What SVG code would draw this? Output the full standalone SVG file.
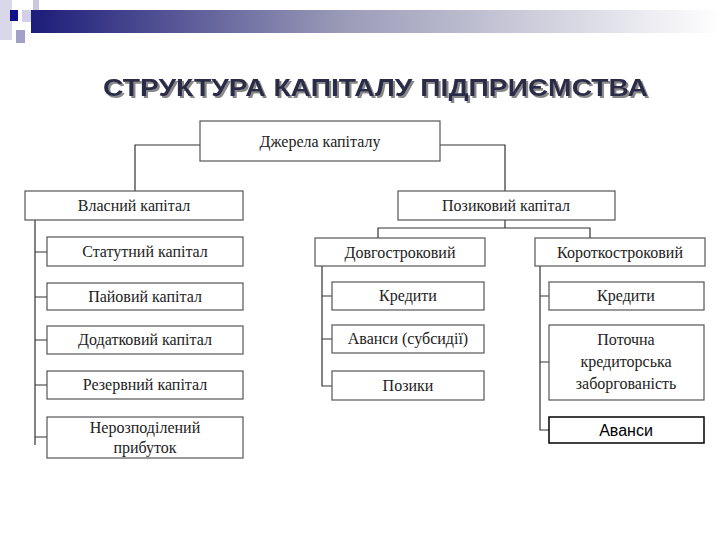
<svg xmlns="http://www.w3.org/2000/svg" width="720" height="540" viewBox="0 0 720 540">
<defs>
<linearGradient id="g" x1="0" x2="1" y1="0" y2="0">
<stop offset="0" stop-color="#1c1c7a"/><stop offset="0.45" stop-color="#9a9ab8"/><stop offset="1" stop-color="#ffffff"/>
</linearGradient>
<filter id="sh" x="-5%" y="-30%" width="110%" height="160%"><feDropShadow dx="2" dy="2" stdDeviation="0.6" flood-color="#888"/></filter>
<style>
.b{fill:#fff;stroke:#555;stroke-width:1.2}
.t{font-family:"Liberation Serif",serif;font-size:16px;fill:#222;text-anchor:middle}
.s{font-family:"Liberation Sans",sans-serif;font-size:16px;fill:#000;text-anchor:middle}
.c{fill:none;stroke:#333;stroke-width:1.2}
</style>
</defs>
<rect width="720" height="540" fill="#fff"/>
<g id="decor">
<rect x="0" y="0" width="12" height="40" fill="#d8d8ea"/>
<rect x="33" y="0" width="6" height="30" fill="#c8c8e0"/>
<rect x="22" y="10" width="18" height="12" fill="#d0d0e6"/>
<rect x="10" y="10" width="8" height="11" fill="#10108a"/>
<rect x="16" y="30" width="9" height="13" fill="#a0a0c8"/>
<rect x="31" y="10" width="689" height="23" fill="url(#g)"/>
</g>
<text x="103" y="96" textLength="545" lengthAdjust="spacingAndGlyphs" font-family="Liberation Sans,sans-serif" font-weight="bold" font-size="23" fill="#2a2a48" filter="url(#sh)">СТРУКТУРА КАПІТАЛУ ПІДПРИЄМСТВА</text>
<g id="connectors">
<path class="c" d="M200 145H135V191M440 145H505V191"/>
<path class="c" d="M35 220V445M35 252H47M35 297H47M35 340H47M35 385H47M35 437H47"/>
<path class="c" d="M505 220V228M378 238V228H590V238"/>
<path class="c" d="M322 266V386H332M322 296H332M322 339H332"/>
<path class="c" d="M540 266V430H549M540 296H549M540 362H549"/>
</g>
<g id="n0"><rect class="b" x="200" y="121" width="240" height="40"/><text class="t" x="320" y="147">Джерела капіталу</text></g>
<g id="n1"><rect class="b" x="25" y="191" width="218" height="29"/><text class="t" x="134" y="211">Власний капітал</text></g>
<g id="n2"><rect class="b" x="47" y="237" width="196" height="29"/><text class="t" x="145" y="257">Статутний капітал</text></g>
<g id="n3"><rect class="b" x="47" y="283" width="196" height="27"/><text class="t" x="145" y="302">Пайовий капітал</text></g>
<g id="n4"><rect class="b" x="47" y="326" width="196" height="28"/><text class="t" x="145" y="345">Додатковий капітал</text></g>
<g id="n5"><rect class="b" x="47" y="371" width="196" height="28"/><text class="t" x="145" y="390">Резервний капітал</text></g>
<g id="n6"><rect class="b" x="47" y="417" width="196" height="41"/><text class="t" x="145" y="433">Нерозподілений</text><text class="t" x="145" y="453">прибуток</text></g>
<g id="n7"><rect class="b" x="398" y="191" width="217" height="29"/><text class="t" x="506" y="211">Позиковий капітал</text></g>
<g id="n8"><rect class="b" x="315" y="238" width="170" height="28"/><text class="t" x="400" y="258">Довгостроковий</text></g>
<g id="n9"><rect class="b" x="535" y="238" width="170" height="28"/><text class="t" x="620" y="258">Короткостроковий</text></g>
<g id="n10"><rect class="b" x="332" y="282" width="152" height="28"/><text class="t" x="408" y="301">Кредити</text></g>
<g id="n11"><rect class="b" x="332" y="325" width="152" height="28"/><text class="t" x="408" y="344">Аванси (субсидії)</text></g>
<g id="n12"><rect class="b" x="332" y="371" width="152" height="29"/><text class="t" x="408" y="391">Позики</text></g>
<g id="n13"><rect class="b" x="549" y="282" width="155" height="28"/><text class="t" x="626" y="301">Кредити</text></g>
<g id="n14"><rect class="b" x="549" y="325" width="155" height="75"/><text class="t" x="626" y="345">Поточна</text><text class="t" x="626" y="367">кредиторська</text><text class="t" x="626" y="389">заборгованість</text></g>
<g id="n15"><rect x="549" y="417" width="155" height="26" fill="#fff" stroke="#111" stroke-width="1.6"/><text class="s" x="626" y="436">Аванси</text></g>
</svg>
